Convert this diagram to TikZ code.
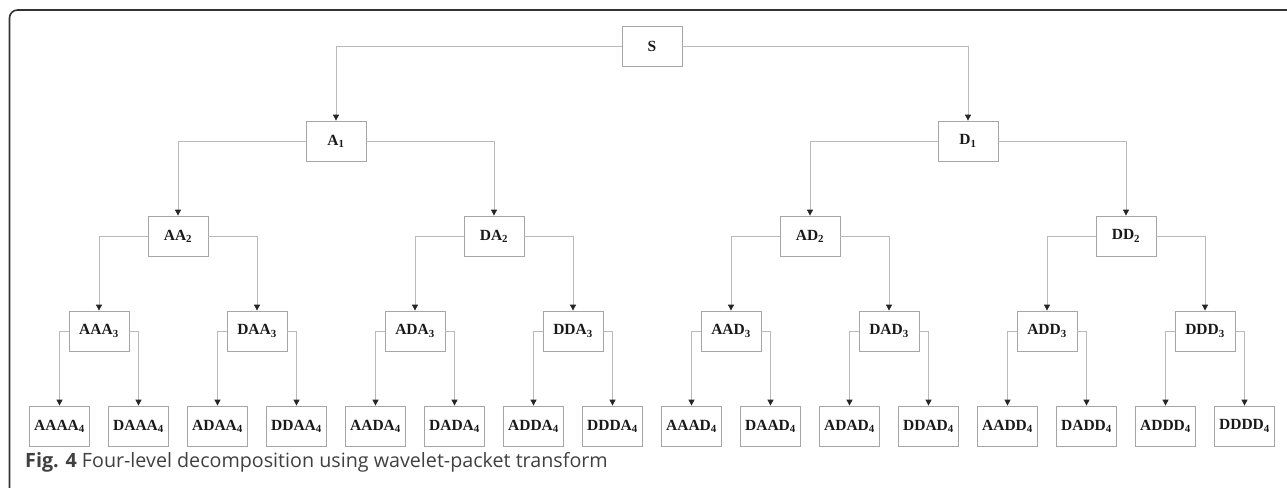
\documentclass[tikz,border=0pt]{standalone}
\usepackage{fontspec}
\setmainfont{Liberation Serif}
\newfontfamily\capfont{Open Sans}
\usetikzlibrary{arrows.meta}

\tikzset{
  box/.style={draw=gray!70, line width=0.8pt, minimum width=60pt, minimum height=40pt, inner sep=0pt, text=black!90, font=\fontsize{15.5}{18}\selectfont\bfseries},
  link/.style={draw=gray!55, line width=0.9pt, -{Triangle[width=6pt,length=6pt,color=black!85]}},
}

\begin{document}
\begin{tikzpicture}[x=1pt,y=-1pt]
			\useasboundingbox (0,0) rectangle (1287,487);
			% Frame
			\draw[line width=1.6pt, black!80, rounded corners=8pt] (9.5,490) -- (9.5,10) -- (1290,10);
			% Nodes
			\node[box] (S) at (652,46) {S};
			\foreach \n/\x in {A/336, D/968} {
				\node[box] (\n1) at (\x,141) {\n\textsubscript{1}};
			}
			\foreach \n/\x in {AA/178, DA/494, AD/810, DD/1126} {
				\node[box] (\n2) at (\x,236) {\n\textsubscript{2}};
			}
			\foreach \n/\x in {AAA/99, DAA/257, ADA/415, DDA/573, AAD/731, DAD/889, ADD/1047, DDD/1205} {
				\node[box] (\n3) at (\x,331) {\n\textsubscript{3}};
			}
			\foreach \n/\x in {AAAA/59.5, DAAA/138.5, ADAA/217.5, DDAA/296.5, AADA/375.5, DADA/454.5, ADDA/533.5, DDDA/612.5, AAAD/691.5, DAAD/770.5, ADAD/849.5, DDAD/928.5, AADD/1007.5, DADD/1086.5, ADDD/1165.5, DDDD/1244.5} {
				\node[box] (\n4) at (\x,426) {\n\textsubscript{4}};
			}
			\node[anchor=base west, inner sep=0pt, text=black!75, font=\capfont\fontsize{19.7}{22}\selectfont] (cap) at (25,467) {\textbf{Fig. 4} Four-level decomposition using wavelet-packet transform};
			% Connectors
			\draw[link] (S) -| (A1);
			\draw[link] (S) -| (D1);
			\foreach \p in {A,D} {
				\draw[link] (\p1) -| (A\p2);
				\draw[link] (\p1) -| (D\p2);
			}
			\foreach \p in {AA,DA,AD,DD} {
				\draw[link] (\p2) -| (A\p3);
				\draw[link] (\p2) -| (D\p3);
			}
			\foreach \p in {AAA,DAA,ADA,DDA,AAD,DAD,ADD,DDD} {
				\draw[link] (\p3) -| (A\p4);
				\draw[link] (\p3) -| (D\p4);
			}
		\end{tikzpicture}
\end{document}
